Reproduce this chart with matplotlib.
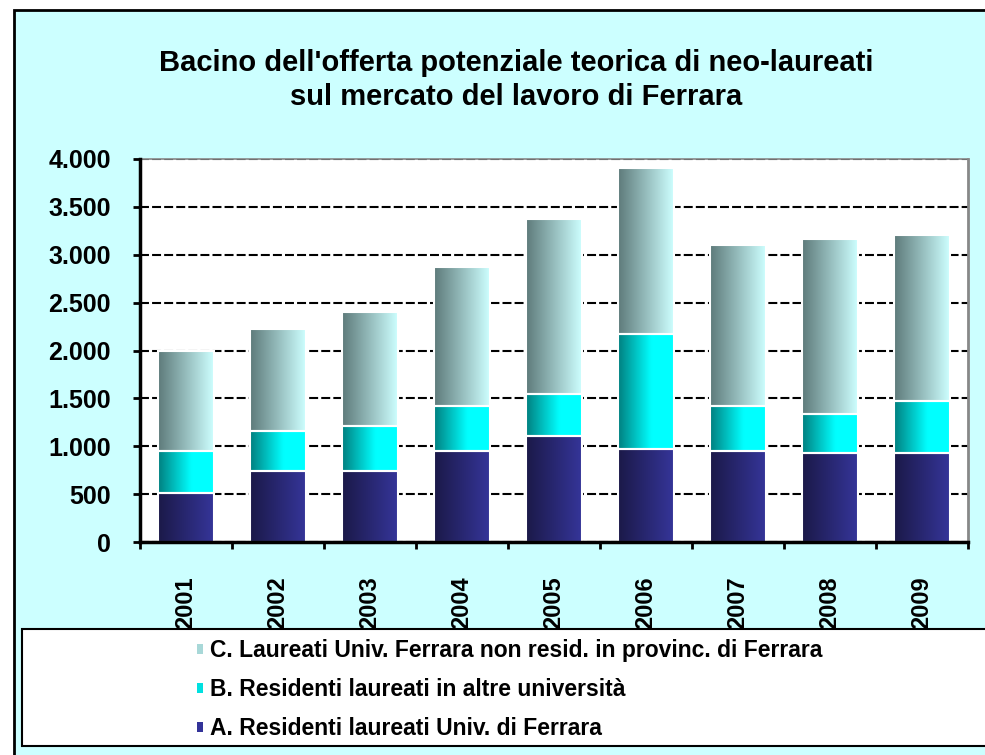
import matplotlib.pyplot as plt
import numpy as np
from matplotlib.colors import LinearSegmentedColormap
from matplotlib.patches import Rectangle, Patch
from matplotlib.ticker import FuncFormatter, FixedLocator

plt.rcParams['font.family'] = ['Liberation Sans', 'DejaVu Sans']
plt.rcParams['font.weight'] = 'bold'

years = ['2001', '2002', '2003', '2004', '2005', '2006', '2007', '2008', '2009']
res_ferrara = [510, 745, 745, 950, 1110, 975, 950, 925, 925]      # A
res_altre = [440, 415, 465, 470, 435, 1195, 470, 415, 545]        # B
non_res = [1040, 1060, 1190, 1450, 1825, 1740, 1685, 1820, 1740]  # C

labels = ['A. Residenti laureati Univ. di Ferrara',
          'B. Residenti laureati in altre università',
          'C. Laureati Univ. Ferrara non resid. in provinc. di Ferrara']
title = "Bacino dell'offerta potenziale teorica di neo-laureati\nsul mercato del lavoro di Ferrara"

cmaps = [
    LinearSegmentedColormap.from_list('a', ['#1b1948', '#353599']),
    LinearSegmentedColormap.from_list('b', [(0, '#007f7f'), (0.6, '#00ffff'), (1, '#00ffff')]),
    LinearSegmentedColormap.from_list('c', ['#5e7a7a', '#cdffff']),
]
legend_cols = ['#333399', '#00e0e0', '#a8d8d8']

W, H = 985, 755
fig = plt.figure(figsize=(W / 100, H / 100), dpi=100, facecolor='white')

# chart area background + frame (runs off the right/bottom edge)
fig.patches.append(Rectangle((14 / W, -0.1), 1.2, (H - 10) / H + 0.1, transform=fig.transFigure,
                             facecolor='#ccffff', edgecolor='black', lw=2, zorder=-5))

ax = fig.add_axes([140 / W, (H - 542) / H, 828 / W, 383 / H])
ax.set_facecolor('white')

x = np.arange(len(years))
grad = np.linspace(0, 1, 256).reshape(1, -1)
bottom = np.zeros(len(years))
for vals, cm in zip([res_ferrara, res_altre, non_res], cmaps):
    bars = ax.bar(x, vals, 0.6, bottom=bottom, facecolor='none', edgecolor='white', lw=1.5, zorder=3)
    for p in bars.patches:
        ax.imshow(grad, extent=[p.get_x(), p.get_x() + p.get_width(), p.get_y(), p.get_y() + p.get_height()],
                  aspect='auto', cmap=cm, zorder=2, interpolation='bicubic')
    bottom += np.array(vals)

ax.set_xlim(-0.5, len(years) - 0.5)
ax.set_ylim(0, 4000)
ax.set_yticks(np.arange(0, 4001, 500))
ax.yaxis.set_major_formatter(FuncFormatter(lambda v, p: f"{v:,.0f}".replace(',', '.')))
ax.set_xticks(x)
ax.set_xticklabels(years, rotation=90, va='top')
ax.xaxis.set_minor_locator(FixedLocator(np.arange(-0.5, len(years), 1)))
ax.tick_params(axis='x', which='major', length=0, pad=25, labelsize=17)
ax.tick_params(axis='x', which='minor', length=5, width=2, direction='out')
ax.tick_params(axis='y', length=5, width=2, pad=16, labelsize=18)

ax.grid(axis='y', color='black', lw=1.5, linestyle=(0, (4.3, 1.5)), zorder=1)
ax.set_axisbelow(True)
for s in ['left', 'bottom']:
    ax.spines[s].set_linewidth(2.5)
    ax.spines[s].set_zorder(5)
ax.spines['top'].set_color('#888888')
ax.spines['top'].set_linewidth(1.2)
ax.spines['right'].set_color('#888888')
ax.spines['right'].set_linewidth(2)

fig.text(516 / W, 1 - 80 / H, title, ha='center', va='center', fontsize=21, fontweight='bold',
         linespacing=1.25)

# legend box overlapping the year labels
fig.patches.append(Rectangle((22 / W, 1 - 746 / H), 1.2, 117 / H, transform=fig.transFigure,
                             facecolor='white', edgecolor='black', lw=1.5, zorder=10))
handles = [Patch(facecolor=c, edgecolor='none') for c in legend_cols]
leg = fig.legend(handles[::-1], labels[::-1], loc='upper left', bbox_to_anchor=(197 / W, 1 - 639 / H),
                 frameon=False, fontsize=16.5, handlelength=0.27, handleheight=0.27, handletextpad=0.3,
                 labelspacing=0.7, borderpad=0, borderaxespad=0)
leg.set_zorder(11)

fig.savefig('out.png', dpi=100, facecolor=fig.get_facecolor())
